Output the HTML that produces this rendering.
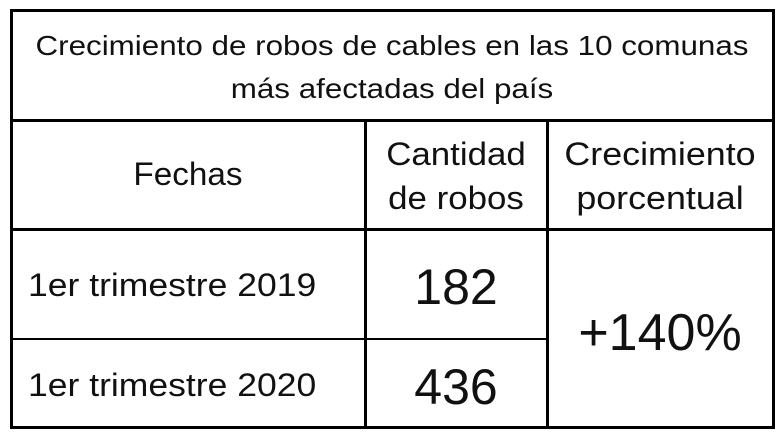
<!DOCTYPE html>
<html><head><style>
body{margin:0;width:782px;height:435px;background:#fff;position:relative;overflow:hidden;font-family:"Liberation Sans",sans-serif;color:#111}
.l{position:absolute;background:#000}
.t{position:absolute;text-align:center;white-space:nowrap}
</style></head><body>
<div class="l" style="left:10px;top:9px;width:3px;height:420px"></div>
<div class="l" style="left:772px;top:9px;width:3px;height:420px"></div>
<div class="l" style="left:10px;top:9px;width:765px;height:3px"></div>
<div class="l" style="left:10px;top:426px;width:765px;height:3px"></div>
<div class="l" style="left:10px;top:119px;width:765px;height:3px"></div>
<div class="l" style="left:10px;top:228px;width:765px;height:3px"></div>
<div class="l" style="left:10px;top:338px;width:538px;height:2px"></div>
<div class="l" style="left:364px;top:119px;width:3px;height:310px"></div>
<div class="l" style="left:546px;top:119px;width:3px;height:310px"></div>
<div class="t" style="left:12px;width:760px;top:24px;font-size:28px;line-height:43px;transform:scaleX(1.12)">Crecimiento de robos de cables en las 10 comunas<br>más afectadas del país</div>
<div class="t" style="left:12px;width:352px;top:156px;font-size:32px;transform:scaleX(1.04)">Fechas</div>
<div class="t" style="left:366px;width:180px;top:132px;font-size:32px;line-height:44px;transform:scaleX(1.09)">Cantidad<br>de robos</div>
<div class="t" style="left:548px;width:224px;top:132px;font-size:32px;line-height:44px;transform:scaleX(1.12)">Crecimiento<br>porcentual</div>
<div class="t" style="left:28px;top:267px;font-size:32px;text-align:left;transform:scaleX(1.11);transform-origin:left">1er trimestre 2019</div>
<div class="t" style="left:28px;top:367px;font-size:32px;text-align:left;transform:scaleX(1.11);transform-origin:left">1er trimestre 2020</div>
<div class="t" style="left:366px;width:180px;top:258px;font-size:50px">182</div>
<div class="t" style="left:366px;width:180px;top:358px;font-size:50px">436</div>
<div class="t" style="left:548px;width:224px;top:303px;font-size:52px">+140%</div>
</body></html>
